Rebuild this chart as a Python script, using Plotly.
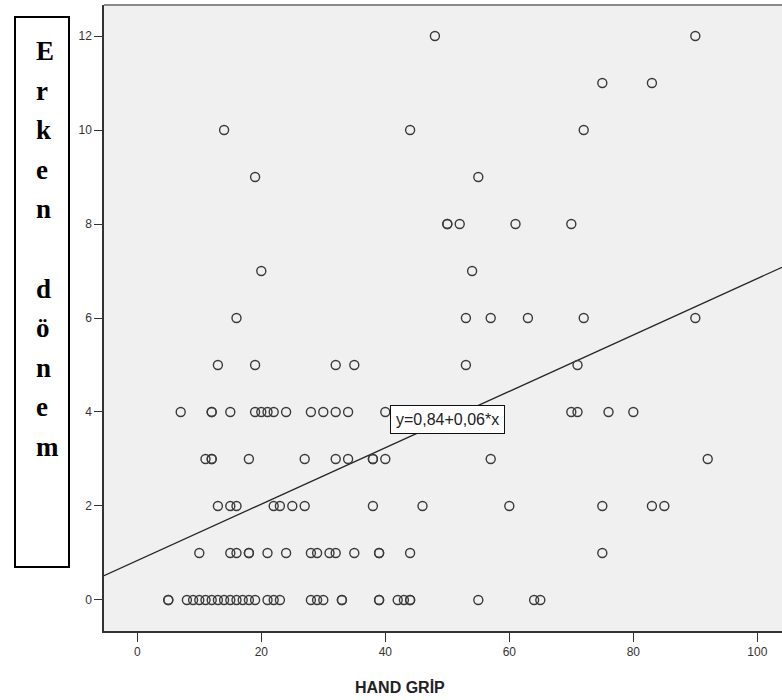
import plotly.graph_objects as go

# Hand grip values, grouped by the early-period score they were observed with
score_0 = [5, 5, 8, 9, 10, 11, 12, 13, 14, 15, 16, 17, 18, 19, 21, 22, 23, 28, 29, 30,
           33, 33, 39, 39, 42, 43, 44, 44, 55, 64, 65]
score_1 = [10, 15, 16, 18, 18, 21, 24, 28, 29, 31, 32, 35, 39, 39, 44, 75]
score_2 = [13, 15, 16, 22, 23, 25, 27, 38, 46, 60, 75, 83, 85]
score_3 = [11, 12, 12, 18, 27, 32, 34, 38, 38, 40, 57, 92]
score_4 = [7, 12, 12, 15, 19, 20, 21, 22, 24, 28, 30, 32, 34, 40, 70, 71, 76, 80]
score_5 = [13, 19, 32, 35, 53, 71]
score_6 = [16, 53, 57, 63, 72, 90]
score_7 = [20, 54]
score_8 = [50, 50, 52, 61, 70]
score_9 = [19, 55]
score_10 = [14, 44, 72]
score_11 = [75, 83]
score_12 = [48, 90]

groups = [score_0, score_1, score_2, score_3, score_4, score_5, score_6,
          score_7, score_8, score_9, score_10, score_11, score_12]

hand_grip = []
erken_donem = []
for level, values in enumerate(groups):
    hand_grip += values
    erken_donem += [level] * len(values)

# Fitted line
intercept = 0.84
slope = 0.06
fit_label = "y=0,84+0,06*x"

x_ticks = [0, 20, 40, 60, 80, 100]
y_ticks = [0, 2, 4, 6, 8, 10, 12]
x_title = "HAND GRİP"
y_title_letters = ["E", "r", "k", "e", "n", "", "d", "ö", "n", "e", "m"]

X_RANGE = [-5.37, 103.98]
Y_RANGE = [-0.66, 12.66]

W, H = 782, 700
ML, MR, MT, MB = 104, 0, 5, 69
PW = W - ML - MR
PH = H - MT - MB


def px(xp):
    return (xp - ML) / PW


def py(yp):
    return (H - MB - yp) / PH


fig = go.Figure()

fit_x = X_RANGE
fit_y = [intercept + slope * v for v in fit_x]
fig.add_trace(go.Scatter(
    x=fit_x, y=fit_y, mode="lines",
    line=dict(color="#262626", width=1.3),
    hoverinfo="skip", showlegend=False,
))

fig.add_trace(go.Scatter(
    x=hand_grip, y=erken_donem, mode="markers",
    marker=dict(symbol="circle-open", size=9, color="#3a3a3a",
                line=dict(width=1.4)),
    showlegend=False,
))

tick_font = dict(family="Liberation Sans, Arial, sans-serif", size=12, color="#333333")

fig.update_xaxes(
    range=X_RANGE, tickvals=x_ticks, ticks="outside", ticklen=9, tickwidth=1.3,
    tickcolor="#333333", showline=True, linecolor="#333333", linewidth=1.5,
    showgrid=False, zeroline=False, tickfont=tick_font,
)
fig.update_yaxes(
    range=Y_RANGE, tickvals=y_ticks, ticks="outside", ticklen=8, tickwidth=1.3,
    tickcolor="#333333", showline=True, linecolor="#333333", linewidth=1.5,
    showgrid=False, zeroline=False, tickfont=tick_font,
)

shapes = [
    # top frame line of the plot area
    dict(type="line", xref="paper", yref="paper", x0=0, x1=1, y0=1, y1=1,
         line=dict(color="#888888", width=2)),
    # box around the vertical axis title
    dict(type="rect", xref="paper", yref="paper",
         x0=px(15), x1=px(69), y0=py(567), y1=py(17),
         line=dict(color="black", width=2), fillcolor="white"),
]

annotations = [
    dict(x=50, y=intercept + slope * 50, xref="x", yref="y", text=fit_label,
         showarrow=False, bgcolor="white", bordercolor="#111111", borderwidth=1,
         borderpad=5,
         font=dict(family="Liberation Sans, Arial, sans-serif", size=16, color="#222222")),
    dict(x=px(400), y=py(687), xref="paper", yref="paper", text="<b>" + x_title + "</b>",
         showarrow=False, xanchor="center", yanchor="middle",
         font=dict(family="Liberation Sans, Arial, sans-serif", size=16, color="#222222")),
]

baseline0 = 60
step = 39.6
for i, ch in enumerate(y_title_letters):
    if not ch:
        continue
    base = baseline0 + i * step
    annotations.append(dict(
        x=px(34), y=py(base - 9), xref="paper", yref="paper",
        text="<b>" + ch + "</b>", showarrow=False, xanchor="left", yanchor="middle",
        font=dict(family="Liberation Serif, Times New Roman, serif", size=27, color="black"),
    ))

fig.update_layout(
    width=W, height=H,
    margin=dict(l=ML, r=MR, t=MT, b=MB),
    paper_bgcolor="white", plot_bgcolor="#f0f0f0",
    shapes=shapes, annotations=annotations,
)

fig.write_html("out.html")
